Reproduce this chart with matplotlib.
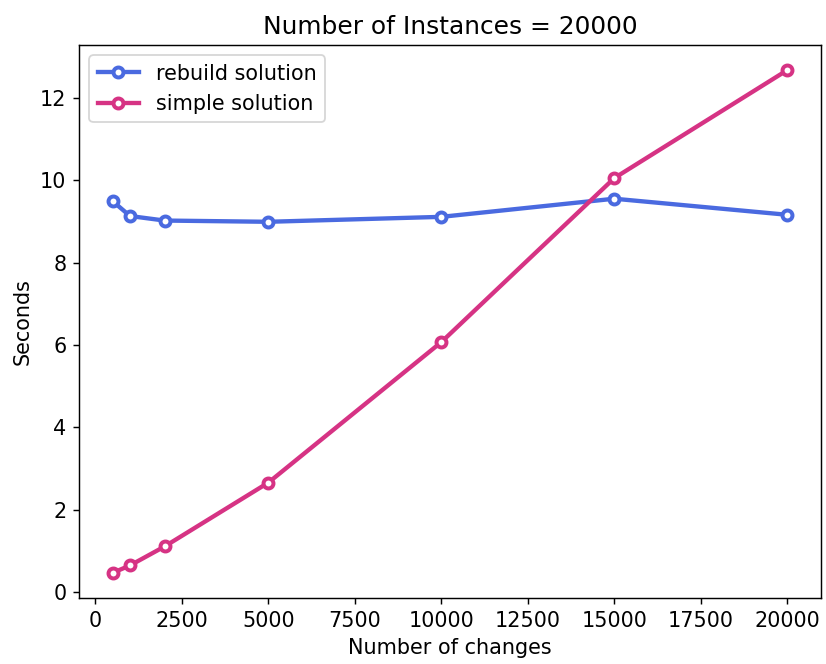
import matplotlib
matplotlib.use("Agg")
import matplotlib.pyplot as plt

changes = [500, 1000, 2000, 5000, 10000, 15000, 20000]
rebuild = [9.49, 9.13, 9.02, 8.99, 9.11, 9.55, 9.16]
simple = [0.47, 0.65, 1.11, 2.66, 6.07, 10.05, 12.67]

plt.rcParams['font.size'] = 11.5
fig = plt.figure(figsize=(826/130, 664/130), dpi=130)
ax = fig.add_axes([0.0956, 0.0994, 0.8983, 0.8328])
ax.plot(changes, rebuild, color='#4a6ae0', lw=2.4, marker='o', markersize=5.5,
        markerfacecolor='white', markeredgewidth=2.2, label='rebuild solution')
ax.plot(changes, simple, color='#d63384', lw=2.4, marker='o', markersize=5.5,
        markerfacecolor='white', markeredgewidth=2.2, label='simple solution')
ax.set_title('Number of Instances = 20000', fontsize=13.8)
ax.set_xlabel('Number of changes')
ax.set_ylabel('Seconds')
ax.legend(loc='upper left')
fig.savefig('out.png', dpi=130)
